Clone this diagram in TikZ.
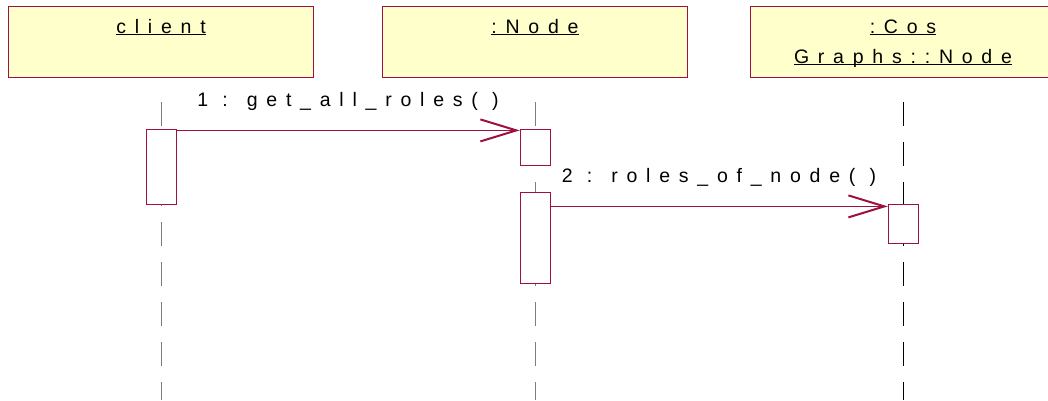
\documentclass[tikz,border=0pt]{standalone}
\usepackage{fontspec}
\setmainfont{Liberation Sans}[LetterSpace=45]
\usetikzlibrary{arrows.meta,positioning}
\definecolor{objColor}{RGB}{255,255,204}
\definecolor{edgeColor}{RGB}{158,16,68}
\definecolor{lifeColor}{RGB}{125,125,125}
\newcommand{\seqfont}{\fontsize{19.5}{30}\selectfont}
\newcommand{\objname}[1]{\underline{\smash{#1}}}

\begin{document}
\begin{tikzpicture}[x=1pt, y=-1pt,
    obj/.style={draw=edgeColor, fill=objColor, anchor=north, minimum width=305pt, inner ysep=14pt, text height=13pt, text depth=30pt, align=center, font=\seqfont},
    act/.style={draw=edgeColor, fill=white, minimum width=30pt, inner sep=0pt},
    lifeline/.style={lifeColor, line width=1pt, dash pattern=on 24pt off 16pt},
    msg/.style={edgeColor, line width=1pt, -{Straight Barb[length=36pt, width=22pt, line width=2pt]}},
    msglabel/.style={midway, anchor=base, yshift=24pt, text=black, font=\seqfont},
    node distance=52pt
  ]
  \useasboundingbox (0,0) rectangle (1048,400);
  \coordinate (bottom) at (0,400);

  % objects
  \node[obj] (client) at (161,6) {\objname{client}};
  \node[obj] (node) at (535,6) {\objname{:Node}};
  \node[obj, text height=43pt, text depth=0pt] (cos) at (903,6) {\objname{:Cos}\\\objname{Graphs::Node}};

  % lifelines
  \foreach \o in {client,node}
    \draw[lifeline] ([yshift=-25pt]\o.south) -- (\o.south |- bottom);
  \draw[lifeline, black] ([yshift=-25pt]cos.south) -- (cos.south |- bottom);

  % activations
  \node[act, minimum height=75pt, below=of client] (act1) {};
  \node[act, minimum height=36pt, below=of node] (act2) {};
  \node[act, minimum height=91pt, below=26pt of act2] (act3) {};
  \node[act, minimum height=39pt, below=127pt of cos] (act4) {};

  % messages
  \coordinate[below=1pt of act2.north west] (m1);
  \coordinate[below=2pt of act4.north west] (m2);
  \draw[msg] (act1.east |- m1) -- node[msglabel] {1 : get\_all\_roles( )} (m1);
  \draw[msg] (act3.east |- m2) -- node[msglabel] {2 : roles\_of\_node( )} (m2);
\end{tikzpicture}
\end{document}
